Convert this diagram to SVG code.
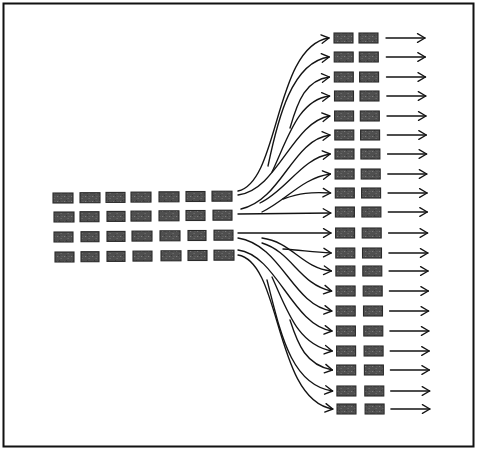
<svg xmlns="http://www.w3.org/2000/svg" width="477" height="450" viewBox="0 0 477 450">
<style>
.b{fill:url(#spk);stroke:#2a2a2a;stroke-width:1.1}
.c{fill:none;stroke:#141414;stroke-width:1.35;stroke-linecap:round;marker-end:url(#ah)}
</style>
<defs>
<pattern id="spk" width="7" height="5" patternUnits="userSpaceOnUse">
<rect width="7" height="5" fill="#4f4f4f"/>
<rect x="1" y="1" width="1.2" height="1" fill="#7a7a7a"/>
<rect x="4.5" y="3" width="1.3" height="1" fill="#6e6e6e"/>
<rect x="3" y="0" width="1" height="1" fill="#3a3a3a"/>
<rect x="5.5" y="1" width="1" height="1" fill="#686868"/>
</pattern>
<marker id="ah" viewBox="-9 -6 11 12" refX="0" refY="0" markerWidth="11" markerHeight="12" orient="auto" markerUnits="userSpaceOnUse">
<path d="M-7.5,-4.3 L0,0 L-7.5,4.3" fill="none" stroke="#141414" stroke-width="1.35" stroke-linecap="round" stroke-linejoin="round"/>
</marker>
</defs>
<rect x="3.5" y="3.5" width="470" height="443" fill="#fff" stroke="#111" stroke-width="2"/>

<g id="source">
<g id="s1-1"><rect class="b" x="53" y="193" width="20" height="10"/></g>
<g id="s1-2"><rect class="b" x="80" y="192.7" width="20" height="10"/></g>
<g id="s1-3"><rect class="b" x="106" y="192.4" width="19" height="10"/></g>
<g id="s1-4"><rect class="b" x="131" y="192.1" width="20" height="10"/></g>
<g id="s1-5"><rect class="b" x="159" y="191.8" width="20" height="10"/></g>
<g id="s1-6"><rect class="b" x="186" y="191.5" width="19" height="10"/></g>
<g id="s1-7"><rect class="b" x="212" y="191.2" width="20" height="10"/></g>
<g id="s2-1"><rect class="b" x="54" y="212" width="20" height="10"/></g>
<g id="s2-2"><rect class="b" x="80" y="211.7" width="19" height="10"/></g>
<g id="s2-3"><rect class="b" x="107" y="211.4" width="18" height="10"/></g>
<g id="s2-4"><rect class="b" x="131" y="211.1" width="20" height="10"/></g>
<g id="s2-5"><rect class="b" x="159" y="210.8" width="20" height="10"/></g>
<g id="s2-6"><rect class="b" x="186" y="210.5" width="19" height="10"/></g>
<g id="s2-7"><rect class="b" x="213" y="210.2" width="19" height="10"/></g>
<g id="s3-1"><rect class="b" x="54" y="232" width="19" height="10"/></g>
<g id="s3-2"><rect class="b" x="81" y="231.7" width="18" height="10"/></g>
<g id="s3-3"><rect class="b" x="107" y="231.4" width="18" height="10"/></g>
<g id="s3-4"><rect class="b" x="132" y="231.1" width="20" height="10"/></g>
<g id="s3-5"><rect class="b" x="160" y="230.8" width="20" height="10"/></g>
<g id="s3-6"><rect class="b" x="188" y="230.5" width="18" height="10"/></g>
<g id="s3-7"><rect class="b" x="214" y="230.2" width="19" height="10"/></g>
<g id="s4-1"><rect class="b" x="55" y="252" width="19" height="10"/></g>
<g id="s4-2"><rect class="b" x="81" y="251.7" width="18" height="10"/></g>
<g id="s4-3"><rect class="b" x="107" y="251.4" width="18" height="10"/></g>
<g id="s4-4"><rect class="b" x="133" y="251.1" width="19" height="10"/></g>
<g id="s4-5"><rect class="b" x="161" y="250.8" width="20" height="10"/></g>
<g id="s4-6"><rect class="b" x="188" y="250.5" width="19" height="10"/></g>
<g id="s4-7"><rect class="b" x="214" y="250.2" width="20" height="10"/></g>
</g>

<g id="targets">
<g id="t1"><rect class="b" x="334.0" y="33" width="19" height="10"/><rect class="b" x="359.0" y="33" width="19" height="10"/></g>
<g id="t2"><rect class="b" x="334.2" y="52" width="19" height="10"/><rect class="b" x="359.3" y="52" width="19" height="10"/></g>
<g id="t3"><rect class="b" x="334.3" y="72" width="19" height="10"/><rect class="b" x="359.6" y="72" width="19" height="10"/></g>
<g id="t4"><rect class="b" x="334.5" y="91" width="19" height="10"/><rect class="b" x="360.0" y="91" width="19" height="10"/></g>
<g id="t5"><rect class="b" x="334.6" y="111" width="19" height="10"/><rect class="b" x="360.3" y="111" width="19" height="10"/></g>
<g id="t6"><rect class="b" x="334.8" y="130" width="19" height="10"/><rect class="b" x="360.6" y="130" width="19" height="10"/></g>
<g id="t7"><rect class="b" x="335.0" y="149" width="19" height="10"/><rect class="b" x="360.9" y="149" width="19" height="10"/></g>
<g id="t8"><rect class="b" x="335.1" y="169" width="19" height="10"/><rect class="b" x="361.2" y="169" width="19" height="10"/></g>
<g id="t9"><rect class="b" x="335.3" y="188" width="19" height="10"/><rect class="b" x="361.6" y="188" width="19" height="10"/></g>
<g id="t10"><rect class="b" x="335.4" y="207" width="19" height="10"/><rect class="b" x="361.9" y="207" width="19" height="10"/></g>
<g id="t11"><rect class="b" x="335.6" y="228" width="19" height="10"/><rect class="b" x="362.2" y="228" width="19" height="10"/></g>
<g id="t12"><rect class="b" x="335.8" y="248" width="19" height="10"/><rect class="b" x="362.5" y="248" width="19" height="10"/></g>
<g id="t13"><rect class="b" x="335.9" y="266" width="19" height="10"/><rect class="b" x="362.8" y="266" width="19" height="10"/></g>
<g id="t14"><rect class="b" x="336.1" y="286" width="19" height="10"/><rect class="b" x="363.2" y="286" width="19" height="10"/></g>
<g id="t15"><rect class="b" x="336.2" y="306" width="19" height="10"/><rect class="b" x="363.5" y="306" width="19" height="10"/></g>
<g id="t16"><rect class="b" x="336.4" y="326" width="19" height="10"/><rect class="b" x="363.8" y="326" width="19" height="10"/></g>
<g id="t17"><rect class="b" x="336.6" y="346" width="19" height="10"/><rect class="b" x="364.1" y="346" width="19" height="10"/></g>
<g id="t18"><rect class="b" x="336.7" y="365" width="19" height="10"/><rect class="b" x="364.4" y="365" width="19" height="10"/></g>
<g id="t19"><rect class="b" x="336.9" y="386" width="19" height="10"/><rect class="b" x="364.8" y="386" width="19" height="10"/></g>
<g id="t20"><rect class="b" x="337.0" y="404" width="19" height="10"/><rect class="b" x="365.1" y="404" width="19" height="10"/></g>
</g>

<g id="connectors">
<path class="c" d="M238,191 C280,182 274,46 329,38"/>
<path class="c" d="M268,166 C278,118 292,62 329.2,57"/>
<path class="c" d="M290,128 C298,100 306,80 329.4,77"/>
<path class="c" d="M272,172 C288,138 298,100 329.6,96"/>
<path class="c" d="M238,195 C278,190 292,122 329.8,116"/>
<path class="c" d="M241,209 C282,200 292,140 330,135"/>
<path class="c" d="M260,203 C287,190 302,158 330.2,154"/>
<path class="c" d="M262,212 C287,200 302,178 330.4,174"/>
<path class="c" d="M283,199 C300,193 310,192 330.6,193"/>
<path class="c" d="M238,214 L330.8,213"/>
<path class="c" d="M238,233 L331,233"/>
<path class="c" d="M283,249 C300,250 312,252 331.2,253"/>
<path class="c" d="M262,238 C292,242 302,268 331.4,271"/>
<path class="c" d="M262,243 C292,252 300,285 331.6,291"/>
<path class="c" d="M238,238 C282,245 292,305 331.8,311"/>
<path class="c" d="M238,250 C277,255 292,325 332,331"/>
<path class="c" d="M272,277 C288,312 298,345 332.2,351"/>
<path class="c" d="M290,320 C298,345 306,365 332.4,370"/>
<path class="c" d="M267,280 C280,330 290,385 332.6,391"/>
<path class="c" d="M238,255 C282,262 274,400 332.8,409"/>

<path class="c" d="M386.0,38 H425.0"/>
<path class="c" d="M386.3,57 H425.3"/>
<path class="c" d="M386.5,77 H425.5"/>
<path class="c" d="M386.8,96 H425.8"/>
<path class="c" d="M387.0,116 H426.0"/>
<path class="c" d="M387.3,135 H426.3"/>
<path class="c" d="M387.6,154 H426.6"/>
<path class="c" d="M387.8,174 H426.8"/>
<path class="c" d="M388.1,193 H427.1"/>
<path class="c" d="M388.3,212 H427.3"/>
<path class="c" d="M388.6,233 H427.6"/>
<path class="c" d="M388.9,253 H427.9"/>
<path class="c" d="M389.1,271 H428.1"/>
<path class="c" d="M389.4,291 H428.4"/>
<path class="c" d="M389.6,311 H428.6"/>
<path class="c" d="M389.9,331 H428.9"/>
<path class="c" d="M390.2,351 H429.2"/>
<path class="c" d="M390.4,370 H429.4"/>
<path class="c" d="M390.7,391 H429.7"/>
<path class="c" d="M390.9,409 H429.9"/>
</g>
</svg>
